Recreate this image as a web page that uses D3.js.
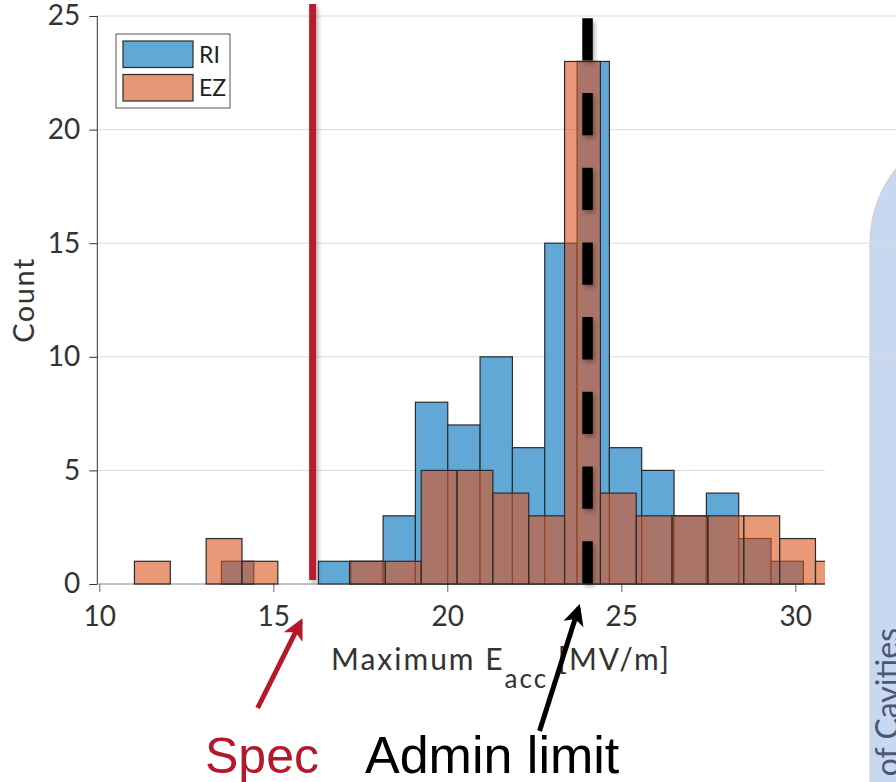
<!DOCTYPE html>
<html>
<head>
<meta charset="utf-8">
<script src="https://cdn.jsdelivr.net/npm/d3@7"></script>
<style>
  body { margin: 0; background: #fff; }
  svg { display: block; font-family: Lato, "Open Sans", sans-serif; }
</style>
</head>
<body>
<svg id="chart"></svg>
<script>
// Histogram counts (bin start / width in MV/m)
const riStart = 13.51;
const riBinWidth = 0.929;
const riCounts = [1, 0, 0, 1, 1, 3, 8, 7, 10, 6, 15, 23, 6, 5, 3, 4, 2, 1];

const ezStart = 11.01;
const ezBinWidth = 1.03;
const ezCounts = [1, 0, 2, 1, 0, 0, 1, 1, 5, 5, 4, 3, 23, 4, 3, 3, 3, 3, 2, 1];

const seriesNames = ["RI", "EZ"];
const xTicks = [10, 15, 20, 25, 30];
const yTicks = [0, 5, 10, 15, 20, 25];

// Vertical reference lines
const specLimit = 16.13;
const adminLimit = 24.03;

const width = 896;
const height = 782;
const plot = {left: 97.3, right: 825, top: 16, bottom: 584};

const svg = d3.select("#chart")
    .attr("width", width)
    .attr("height", height);

const defs = svg.append("defs");

defs.append("clipPath")
    .attr("id", "plotClip")
    .append("rect")
    .attr("x", plot.left)
    .attr("y", 0)
    .attr("width", plot.right - plot.left)
    .attr("height", plot.bottom + 1);

// user space units, since a vertical line has a zero-width bbox
defs.append("filter")
    .attr("id", "shadow")
    .attr("filterUnits", "userSpaceOnUse")
    .attr("x", 0).attr("y", 0)
    .attr("width", width).attr("height", height)
    .append("feDropShadow")
    .attr("dx", 2).attr("dy", 3)
    .attr("stdDeviation", 2)
    .attr("flood-color", "#000")
    .attr("flood-opacity", 0.3);

["redHead", "blackHead"].forEach((id, i) => {
    defs.append("marker")
        .attr("id", id)
        .attr("viewBox", "0 0 10 10")
        .attr("refX", 8).attr("refY", 5)
        .attr("markerWidth", 4.2).attr("markerHeight", 4.2)
        .attr("markerUnits", "strokeWidth")
        .attr("orient", "auto")
        .append("path")
        .attr("d", "M0,0 L10,5 L0,10 L2.5,5 Z")
        .attr("fill", i === 0 ? "#b5182b" : "#000");
});

// Scales
const xScale = d3.scaleLinear()
    .domain([10, 30])
    .range([99.3, 795.3]);

const yScale = d3.scaleLinear()
    .domain([0, 25])
    .range([plot.bottom, plot.top]);

// Side panel peeking in from the right
svg.append("rect")
    .attr("x", 870)
    .attr("y", 128)
    .attr("width", 220)
    .attr("height", 800)
    .attr("rx", 115)
    .attr("fill", "#c9d8f1")
    .attr("stroke", "#e3c3cd")
    .attr("stroke-width", 1);

svg.append("text")
    .attr("transform", "translate(899,628) rotate(-90)")
    .attr("text-anchor", "end")
    .attr("font-size", 32)
    .attr("fill", "#4b5875")
    .text("Number of Cavities");

// Grid lines
svg.append("g")
    .selectAll("line")
    .data(yTicks.filter(d => d > 0))
    .enter()
    .append("line")
    .attr("x1", plot.left)
    .attr("x2", d => d >= 10 ? width : plot.right)
    .attr("y1", d => yScale(d))
    .attr("y2", d => yScale(d))
    .attr("stroke", "#dcdcdc")
    .attr("stroke-width", 1);

// Axes
const yAxis = svg.append("g")
    .attr("transform", `translate(${plot.left},0)`)
    .call(d3.axisLeft(yScale).tickValues(yTicks).tickSize(8).tickPadding(9));
yAxis.select(".domain").attr("stroke", "#333").attr("d", `M0,${plot.top}V${plot.bottom}`);
yAxis.selectAll(".tick line").attr("stroke", "#333");
yAxis.selectAll("text")
    .attr("font-size", 28)
    .attr("font-family", "Lato, sans-serif")
    .attr("fill", "#333");

const xAxis = svg.append("g")
    .attr("transform", `translate(0,${plot.bottom})`)
    .call(d3.axisBottom(xScale).tickValues(xTicks).tickSize(8).tickPadding(14));
xAxis.select(".domain").attr("stroke", "#888").attr("d", `M${plot.left},0H${plot.right}`);
xAxis.selectAll(".tick line").attr("stroke", "#666");
xAxis.selectAll("text")
    .attr("font-size", 28)
    .attr("font-family", "Lato, sans-serif")
    .attr("fill", "#333");

// Bins
const toBins = (start, w, counts) => counts.map((c, i) => ({
    x0: start + i * w,
    x1: start + (i + 1) * w,
    count: c
})).filter(d => d.count > 0);

const riBins = toBins(riStart, riBinWidth, riCounts);
const ezBins = toBins(ezStart, ezBinWidth, ezCounts);

const bars = svg.append("g").attr("clip-path", "url(#plotClip)");

bars.selectAll(".ri")
    .data(riBins)
    .enter()
    .append("rect")
    .attr("x", d => xScale(d.x0))
    .attr("y", d => yScale(d.count))
    .attr("width", d => xScale(d.x1) - xScale(d.x0))
    .attr("height", d => yScale(0) - yScale(d.count))
    .attr("fill", "#62a8d7")
    .attr("stroke", "#2b2b2b")
    .attr("stroke-width", 1.2);

bars.selectAll(".ez")
    .data(ezBins)
    .enter()
    .append("rect")
    .attr("x", d => xScale(d.x0))
    .attr("y", d => yScale(d.count))
    .attr("width", d => xScale(d.x1) - xScale(d.x0))
    .attr("height", d => yScale(0) - yScale(d.count))
    .attr("fill", "#da531e")
    .attr("fill-opacity", 0.6)
    .attr("stroke", "#2b2b2b")
    .attr("stroke-width", 1.2);

// Spec line (solid red) and admin limit (dashed black)
svg.append("line")
    .attr("x1", xScale(specLimit))
    .attr("x2", xScale(specLimit))
    .attr("y1", 4)
    .attr("y2", 580)
    .attr("stroke", "#b81c2e")
    .attr("stroke-width", 7)
    .attr("filter", "url(#shadow)");

svg.append("line")
    .attr("x1", xScale(adminLimit))
    .attr("x2", xScale(adminLimit))
    .attr("y1", 18.3)
    .attr("y2", 583.5)
    .attr("stroke", "#000")
    .attr("stroke-width", 10.5)
    .attr("stroke-dasharray", "42.3 32.4")
    .attr("filter", "url(#shadow)");

// Legend
const legend = svg.append("g")
    .attr("transform", "translate(116,34)");

legend.append("rect")
    .attr("width", 114)
    .attr("height", 74)
    .attr("fill", "#fff")
    .attr("stroke", "#555")
    .attr("stroke-width", 1);

const legendFill = ["#62a8d7", "#e89678"];
seriesNames.forEach((name, i) => {
    legend.append("rect")
        .attr("x", 7)
        .attr("y", 7 + i * 33.5)
        .attr("width", 70)
        .attr("height", 26.5)
        .attr("fill", legendFill[i])
        .attr("stroke", "#2b2b2b")
        .attr("stroke-width", 1.2);

    legend.append("text")
        .attr("x", 83)
        .attr("y", 20.5 + i * 33.5)
        .attr("dy", "0.35em")
        .attr("font-size", 23)
        .attr("fill", "#222")
        .text(name);
});

// Axis titles
svg.append("text")
    .attr("transform", "translate(34,300) rotate(-90)")
    .attr("text-anchor", "middle")
    .attr("font-size", 29)
    .attr("letter-spacing", 1.5)
    .attr("fill", "#333")
    .text("Count");

const xTitle = svg.append("text")
    .attr("x", 331)
    .attr("y", 670)
    .attr("font-size", 30)
    .attr("letter-spacing", 2)
    .attr("fill", "#333");
xTitle.append("tspan").text("Maximum E");
xTitle.append("tspan").attr("font-size", 26).attr("dy", 18).text("acc");
xTitle.append("tspan").attr("dy", -18).text(" [MV/m]");

// Annotations
svg.append("line")
    .attr("x1", xScale(specLimit) - 55)
    .attr("y1", 708)
    .attr("x2", xScale(specLimit) - 12)
    .attr("y2", 622)
    .attr("stroke", "#b5182b")
    .attr("stroke-width", 5)
    .attr("marker-end", "url(#redHead)");

svg.append("line")
    .attr("x1", xScale(adminLimit) - 48)
    .attr("y1", 731)
    .attr("x2", xScale(adminLimit) - 9)
    .attr("y2", 608)
    .attr("stroke", "#000")
    .attr("stroke-width", 5)
    .attr("marker-end", "url(#blackHead)");

svg.append("text")
    .attr("x", 205)
    .attr("y", 773)
    .attr("font-family", "Liberation Sans, Arial, sans-serif")
    .attr("font-size", 50)
    .attr("fill", "#b5182b")
    .text("Spec");

svg.append("text")
    .attr("x", 365)
    .attr("y", 773)
    .attr("font-family", "Liberation Sans, Arial, sans-serif")
    .attr("font-size", 52)
    .attr("fill", "#000")
    .text("Admin limit");
</script>
</body>
</html>
